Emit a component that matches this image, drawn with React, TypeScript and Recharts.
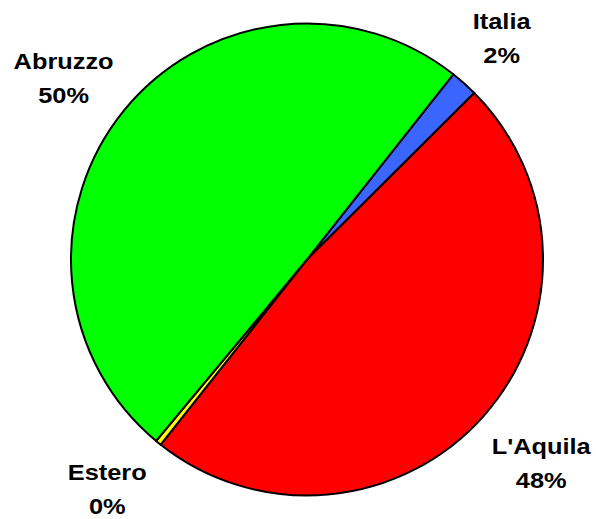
import React from "react";
import { PieChart, Pie, Cell } from "recharts";

const names = ["Italia", "L'Aquila", "Estero", "Abruzzo"];
const values = [1.9, 48.1, 0.4, 49.6];
const colors = ["#3A66FF", "#FF0000", "#FFFF00", "#00FF00"];
// small per-label nudges (px) applied after radial placement
const labelShift: [number, number][] = [[-7, 5], [8, 2], [-9, -6], [-8, 9]];

const data = names.map((n, i) => ({ name: n, value: values[i] }));

const RAD = Math.PI / 180;

const renderLabel = (props: any) => {
  const { cx, cy, midAngle, outerRadius, percent, name, index } = props;
  const r = outerRadius + 67;
  const s = labelShift[index] || [0, 0];
  const x = cx + r * Math.cos(-midAngle * RAD) + s[0];
  const y = cy + r * Math.sin(-midAngle * RAD) + s[1];
  return (
    <g transform={`translate(${x},${y}) scale(1.18,1)`}>
      <text
        textAnchor="middle"
        fontFamily="'Liberation Sans', Arial, sans-serif"
        fontWeight="bold"
        fontSize={21.5}
        fill="#000"
      >
        <tspan x={0} y={-9}>{name}</tspan>
        <tspan x={0} y={25}>{Math.round(percent * 100) + "%"}</tspan>
      </text>
    </g>
  );
};

export default function App() {
  return (
    <div style={{ position: "absolute", left: 0, top: 0, width: 596, height: 519, background: "#fff", overflow: "hidden" }}>
      <PieChart width={596} height={519} margin={{ top: 0, right: 0, bottom: 0, left: 0 }}>
        <Pie
          data={data}
          dataKey="value"
          nameKey="name"
          cx={307}
          cy={259.5}
          outerRadius={236}
          startAngle={51.7}
          endAngle={-308.3}
          stroke="#000"
          strokeWidth={2}
          label={renderLabel}
          labelLine={false}
          isAnimationActive={false}
        >
          {data.map((d, i) => (
            <Cell key={d.name} fill={colors[i]} />
          ))}
        </Pie>
      </PieChart>
    </div>
  );
}
